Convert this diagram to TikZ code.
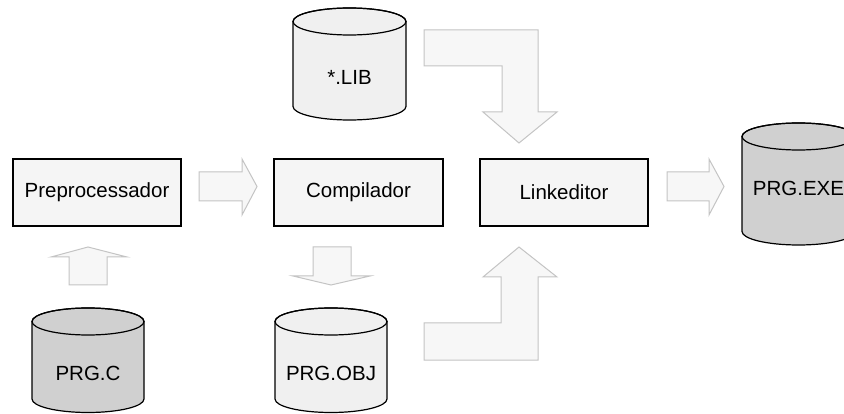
\documentclass[tikz,border=0pt]{standalone}
\usepackage{fontspec}
\setmainfont{Liberation Sans}
\definecolor{boxfill}{HTML}{F5F5F5}
\definecolor{arrfill}{HTML}{F7F7F7}
\definecolor{arrline}{HTML}{C4C4C4}
\definecolor{cyllight}{HTML}{F0F0F0}
\definecolor{cyldark}{HTML}{D0D0D0}
\tikzset{
  procbox/.style={draw=black, line width=1.2pt, fill=boxfill, minimum height=67pt, inner sep=0pt, font=\fontsize{20.5pt}{24pt}\selectfont},
  blockarrow/.style={draw=arrline, fill=arrfill, line width=1pt, line join=miter},
  cylbody/.style={draw=black, line width=1.2pt},
  cyltext/.style={inner sep=0pt, font=\fontsize{20.5pt}{24pt}\selectfont}
}
% #1 left, #2 right, #3 top, #4 bottom, #5 fill, #6 name, #7 text, #8 text y
\newcommand{\mycyl}[8]{%
  \pgfmathsetmacro{\cx}{(#1+#2)/2}%
  \pgfmathsetmacro{\rx}{(#2-#1)/2}%
  \pgfmathsetmacro{\yt}{#3+13.5}%
  \pgfmathsetmacro{\yb}{#4-13.5}%
  \draw[cylbody, fill=#5] (#1,\yt) -- (#1,\yb) arc[start angle=180, end angle=360, x radius=\rx pt, y radius=13.5pt] -- (#2,\yt) arc[start angle=0, end angle=180, x radius=\rx pt, y radius=13.5pt] -- cycle;
  \draw[cylbody] (\cx,\yt) ellipse[x radius=\rx pt, y radius=13.5pt];
  \node[cyltext] (#6) at (\cx,#8) {#7};
}
\begin{document}
\begin{tikzpicture}[x=1pt,y=-1pt]
\useasboundingbox (0,0) rectangle (844,414);
\fill[white] (0,0) rectangle (844,414);
% process boxes
\node[procbox, minimum width=168pt] (pre) at (97,192.5) {Preprocessador};
\node[procbox, minimum width=169pt] (comp) at (358.5,192.5) {Compilador};
\node[procbox, minimum width=168pt] (link) at (564,192.5) {Linkeditor};
% cylinders
\mycyl{293}{406}{8}{120}{cyllight}{lib}{*.LIB}{77}
\mycyl{275}{387}{308}{412.5}{cyllight}{obj}{PRG.OBJ}{373}
\mycyl{32}{144}{308}{412.5}{cyldark}{prgc}{PRG.C}{373}
\mycyl{742}{855}{123}{245}{cyldark}{exe}{PRG.EXE}{188}
% block arrows
\draw[blockarrow] (199,172) -- (242,172) -- (242,159) -- (257,186.5) -- (242,215) -- (242,201) -- (199,201) -- cycle;
\draw[blockarrow] (667,172) -- (709,172) -- (709,159) -- (724,186.5) -- (709,215) -- (709,201) -- (667,201) -- cycle;
\draw[blockarrow] (69,285) -- (69,257) -- (51,257) -- (88,247) -- (127,257) -- (107,257) -- (107,285) -- cycle;
\draw[blockarrow] (313,247) -- (351,247) -- (351,276) -- (370,276) -- (331,285) -- (293,276) -- (313,276) -- cycle;
\draw[blockarrow] (424,30) -- (538,30) -- (538,112) -- (557,112) -- (519,143) -- (483,112) -- (502,112) -- (502,66) -- (424,66) -- cycle;
\draw[blockarrow] (424,360) -- (538,360) -- (538,277) -- (557,277) -- (519,247) -- (483,277) -- (501,277) -- (501,323) -- (424,323) -- cycle;
\end{tikzpicture}
\end{document}
